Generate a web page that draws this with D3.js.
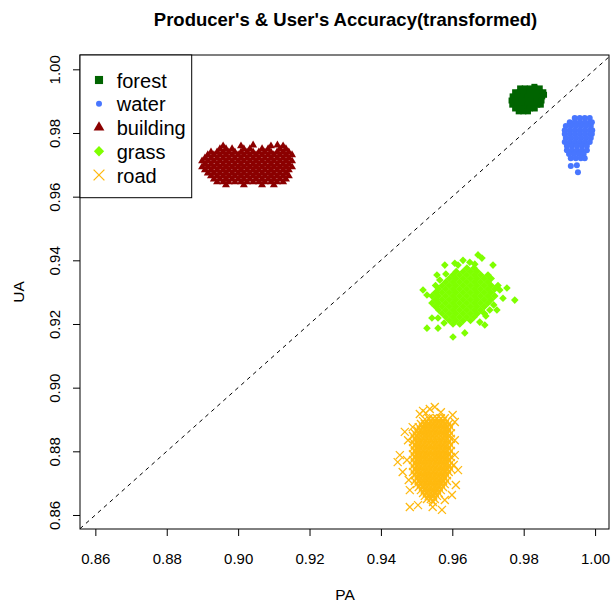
<!DOCTYPE html>
<html>
<head>
<meta charset="utf-8">
<script src="https://cdnjs.cloudflare.com/ajax/libs/d3/7.8.5/d3.min.js"></script>
<style>
  body { margin: 0; background: #fff; }
  svg { display: block; font-family: "Liberation Sans", Arial, sans-serif; }
</style>
</head>
<body>
<div class="container__chart"></div>
<script>
//data (PA, UA), one row of PA values per UA level
const xTicks = [0.86, 0.88, 0.90, 0.92, 0.94, 0.96, 0.98, 1.00];
const yTicks = [0.86, 0.88, 0.90, 0.92, 0.94, 0.96, 0.98, 1.00];
const classNames = ["forest", "water", "building", "grass", "road"];

const forestRows = [
    [0.9945, [0.9830]],
    [0.9940, [0.9790, 0.9803, 0.9817, 0.9831, 0.9845]],
    [0.9928, [0.9776, 0.9789, 0.9803, 0.9817, 0.9831, 0.9845, 0.9855]],
    [0.9920, [0.9857]],
    [0.9915, [0.9769, 0.9782, 0.9796, 0.9810, 0.9824, 0.9838, 0.9852]],
    [0.9902, [0.9766, 0.9780, 0.9794, 0.9808, 0.9822, 0.9836, 0.9850]],
    [0.9889, [0.9768, 0.9782, 0.9796, 0.9810, 0.9824, 0.9838, 0.9848]],
    [0.9877, [0.9776, 0.9789, 0.9803, 0.9817, 0.9831]],
    [0.9868, [0.9786, 0.9799, 0.9812]]
];
const waterRows = [
    [0.9847, [0.9943, 0.9957, 0.9971, 0.9985]],
    [0.9834, [0.9929, 0.9943, 0.9957, 0.9971, 0.9985, 0.9991]],
    [0.9822, [0.9918, 0.9932, 0.9946, 0.9960, 0.9974, 0.9988]],
    [0.9809, [0.9915, 0.9929, 0.9943, 0.9957, 0.9971, 0.9985, 0.9992]],
    [0.9797, [0.9915, 0.9929, 0.9943, 0.9957, 0.9971, 0.9985, 0.9991]],
    [0.9784, [0.9918, 0.9932, 0.9946, 0.9960, 0.9974, 0.9988]],
    [0.9772, [0.9915, 0.9929, 0.9943, 0.9957, 0.9971, 0.9985]],
    [0.9759, [0.9921, 0.9935, 0.9949, 0.9963, 0.9977]],
    [0.9746, [0.9921, 0.9935, 0.9949, 0.9963, 0.9977]],
    [0.9734, [0.9927, 0.9941, 0.9955, 0.9968]],
    [0.9721, [0.9932, 0.9946, 0.9960, 0.9971]],
    [0.9699, [0.9949]],
    [0.9696, [0.9932]],
    [0.9677, [0.9952]]
];
const buildingRows = [
    [0.9762, [0.9042, 0.9110]],
    [0.9759, [0.8958, 0.9008, 0.9092, 0.9126]],
    [0.9750, [0.8949, 0.8966, 0.8983, 0.9016, 0.9033, 0.9067, 0.9084, 0.9117, 0.9134]],
    [0.9740, [0.8924, 0.8941, 0.8958, 0.8974, 0.8991, 0.9008, 0.9025, 0.9042, 0.9058, 0.9075, 0.9092, 0.9109, 0.9126, 0.9142]],
    [0.9731, [0.8915, 0.8932, 0.8949, 0.8966, 0.8983, 0.9000, 0.9016, 0.9033, 0.9050, 0.9067, 0.9084, 0.9100, 0.9117, 0.9134, 0.9151]],
    [0.9721, [0.8907, 0.8924, 0.8941, 0.8958, 0.8974, 0.8991, 0.9008, 0.9025, 0.9042, 0.9058, 0.9075, 0.9092, 0.9109, 0.9126, 0.9142]],
    [0.9712, [0.8899, 0.8915, 0.8932, 0.8949, 0.8966, 0.8983, 0.9000, 0.9016, 0.9033, 0.9050, 0.9067, 0.9084, 0.9100, 0.9117, 0.9134, 0.9151]],
    [0.9702, [0.8907, 0.8924, 0.8941, 0.8958, 0.8974, 0.8991, 0.9008, 0.9025, 0.9042, 0.9058, 0.9075, 0.9092, 0.9109, 0.9126, 0.9142]],
    [0.9693, [0.8899, 0.8915, 0.8932, 0.8949, 0.8966, 0.8983, 0.9000, 0.9016, 0.9033, 0.9050, 0.9067, 0.9084, 0.9100, 0.9117, 0.9134, 0.9151]],
    [0.9684, [0.8907, 0.8924, 0.8941, 0.8958, 0.8974, 0.8991, 0.9008, 0.9025, 0.9042, 0.9058, 0.9075, 0.9092, 0.9109, 0.9126, 0.9142]],
    [0.9674, [0.8915, 0.8932, 0.8949, 0.8966, 0.8983, 0.9000, 0.9016, 0.9033, 0.9050, 0.9067, 0.9084, 0.9100, 0.9117, 0.9134]],
    [0.9665, [0.8924, 0.8941, 0.8958, 0.8974, 0.8991, 0.9008, 0.9025, 0.9042, 0.9058, 0.9075, 0.9092, 0.9109, 0.9126, 0.9142]],
    [0.9655, [0.8932, 0.8949, 0.8966, 0.8983, 0.9000, 0.9016, 0.9033, 0.9050, 0.9067, 0.9084, 0.9100, 0.9117, 0.9134]],
    [0.9646, [0.8941, 0.8958, 0.8974, 0.8991, 0.9008, 0.9025, 0.9042, 0.9058, 0.9075, 0.9092, 0.9109, 0.9126]],
    [0.9637, [0.8966, 0.9016, 0.9067, 0.9100]]
];
const grassRows = [
    [0.9417, [0.9672]],
    [0.9407, [0.9683]],
    [0.9400, [0.9630]],
    [0.9394, [0.9649]],
    [0.9391, [0.9607]],
    [0.9388, [0.9663]],
    [0.9385, [0.9579, 0.9616, 0.9714]],
    [0.9376, [0.9641, 0.9661]],
    [0.9365, [0.9611, 0.9631, 0.9651, 0.9670]],
    [0.9357, [0.9582]],
    [0.9354, [0.9557, 0.9602, 0.9621, 0.9641, 0.9661, 0.9680, 0.9700]],
    [0.9343, [0.9592, 0.9611, 0.9631, 0.9651, 0.9670, 0.9690, 0.9709]],
    [0.9338, [0.9565]],
    [0.9332, [0.9582, 0.9602, 0.9621, 0.9641, 0.9661, 0.9680, 0.9700]],
    [0.9321, [0.9553, 0.9572, 0.9592, 0.9611, 0.9631, 0.9651, 0.9670, 0.9690, 0.9709, 0.9728]],
    [0.9313, [0.9753]],
    [0.9310, [0.9562, 0.9582, 0.9602, 0.9621, 0.9641, 0.9661, 0.9680, 0.9700, 0.9719]],
    [0.9307, [0.9518, 0.9733]],
    [0.9299, [0.9553, 0.9572, 0.9592, 0.9611, 0.9631, 0.9651, 0.9670, 0.9690, 0.9709]],
    [0.9291, [0.9529]],
    [0.9288, [0.9543, 0.9562, 0.9582, 0.9602, 0.9621, 0.9641, 0.9661, 0.9680, 0.9700, 0.9719]],
    [0.9281, [0.9742]],
    [0.9277, [0.9553, 0.9572, 0.9592, 0.9611, 0.9631, 0.9651, 0.9670, 0.9690, 0.9709]],
    [0.9275, [0.9775]],
    [0.9266, [0.9543, 0.9562, 0.9582, 0.9602, 0.9621, 0.9641, 0.9661, 0.9680, 0.9700]],
    [0.9260, [0.9716]],
    [0.9255, [0.9553, 0.9572, 0.9592, 0.9611, 0.9631, 0.9651, 0.9670, 0.9690]],
    [0.9244, [0.9562, 0.9582, 0.9602, 0.9621, 0.9641, 0.9661, 0.9680, 0.9705, 0.9725]],
    [0.9233, [0.9572, 0.9592, 0.9611, 0.9631, 0.9651, 0.9670, 0.9690]],
    [0.9225, [0.9694]],
    [0.9222, [0.9582, 0.9602, 0.9621, 0.9641, 0.9661]],
    [0.9219, [0.9543, 0.9560]],
    [0.9211, [0.9592, 0.9611, 0.9631, 0.9651]],
    [0.9206, [0.9677]],
    [0.9203, [0.9577]],
    [0.9200, [0.9602, 0.9621]],
    [0.9197, [0.9691]],
    [0.9187, [0.9529, 0.9560]],
    [0.9172, [0.9635]],
    [0.9159, [0.9602]]
];
const roadRows = [
    [0.8939, [0.9551]],
    [0.8933, [0.9537]],
    [0.8927, [0.9518]],
    [0.8923, [0.9568]],
    [0.8920, [0.9526]],
    [0.8917, [0.9509]],
    [0.8914, [0.9601]],
    [0.8904, [0.9534, 0.9546, 0.9557, 0.9568, 0.9579]],
    [0.8895, [0.9518, 0.9529, 0.9540, 0.9551, 0.9562, 0.9574, 0.9585]],
    [0.8892, [0.9607]],
    [0.8886, [0.9512, 0.9523, 0.9534, 0.9546, 0.9557, 0.9568, 0.9579, 0.9590]],
    [0.8876, [0.9489, 0.9506, 0.9518, 0.9529, 0.9540, 0.9551, 0.9562, 0.9574, 0.9585, 0.9596]],
    [0.8867, [0.9501, 0.9512, 0.9523, 0.9534, 0.9546, 0.9557, 0.9568, 0.9579, 0.9590]],
    [0.8861, [0.9467]],
    [0.8857, [0.9495, 0.9506, 0.9518, 0.9529, 0.9540, 0.9551, 0.9562, 0.9574, 0.9585, 0.9596]],
    [0.8848, [0.9490, 0.9501, 0.9512, 0.9523, 0.9534, 0.9546, 0.9557, 0.9568, 0.9579, 0.9590]],
    [0.8839, [0.9495, 0.9506, 0.9518, 0.9529, 0.9540, 0.9551, 0.9562, 0.9574, 0.9585, 0.9596]],
    [0.8835, [0.9476, 0.9607]],
    [0.8829, [0.9490, 0.9501, 0.9512, 0.9523, 0.9534, 0.9546, 0.9557, 0.9568, 0.9579, 0.9590]],
    [0.8820, [0.9495, 0.9506, 0.9518, 0.9529, 0.9540, 0.9551, 0.9562, 0.9574, 0.9585, 0.9596]],
    [0.8810, [0.9490, 0.9501, 0.9512, 0.9523, 0.9534, 0.9546, 0.9557, 0.9568, 0.9579, 0.9590]],
    [0.8801, [0.9495, 0.9506, 0.9518, 0.9529, 0.9540, 0.9551, 0.9562, 0.9574, 0.9585, 0.9596]],
    [0.8791, [0.9490, 0.9501, 0.9512, 0.9523, 0.9534, 0.9546, 0.9557, 0.9568, 0.9579, 0.9590]],
    [0.8788, [0.9453, 0.9607]],
    [0.8782, [0.9495, 0.9506, 0.9518, 0.9529, 0.9540, 0.9551, 0.9562, 0.9574, 0.9585, 0.9596]],
    [0.8773, [0.9473, 0.9490, 0.9501, 0.9512, 0.9523, 0.9534, 0.9546, 0.9557, 0.9568, 0.9579, 0.9590]],
    [0.8766, [0.9447]],
    [0.8763, [0.9495, 0.9506, 0.9518, 0.9529, 0.9540, 0.9551, 0.9562, 0.9574, 0.9585, 0.9596]],
    [0.8757, [0.9604]],
    [0.8754, [0.9490, 0.9501, 0.9512, 0.9523, 0.9534, 0.9546, 0.9557, 0.9568, 0.9579, 0.9590]],
    [0.8744, [0.9495, 0.9506, 0.9518, 0.9529, 0.9540, 0.9551, 0.9562, 0.9574, 0.9585, 0.9596]],
    [0.8741, [0.9616]],
    [0.8735, [0.9461, 0.9490, 0.9501, 0.9512, 0.9523, 0.9534, 0.9546, 0.9557, 0.9568, 0.9579, 0.9590]],
    [0.8725, [0.9495, 0.9506, 0.9518, 0.9529, 0.9540, 0.9551, 0.9562, 0.9574, 0.9585]],
    [0.8716, [0.9501, 0.9512, 0.9523, 0.9534, 0.9546, 0.9557, 0.9568, 0.9579]],
    [0.8710, [0.9478]],
    [0.8707, [0.9495, 0.9506, 0.9518, 0.9529, 0.9540, 0.9551, 0.9562, 0.9574, 0.9585]],
    [0.8697, [0.9501, 0.9512, 0.9523, 0.9534, 0.9546, 0.9557, 0.9568, 0.9579]],
    [0.8694, [0.9610]],
    [0.8688, [0.9506, 0.9518, 0.9529, 0.9540, 0.9551, 0.9562, 0.9574]],
    [0.8678, [0.9481, 0.9512, 0.9523, 0.9534, 0.9546, 0.9557, 0.9568]],
    [0.8669, [0.9518, 0.9529, 0.9540, 0.9551, 0.9562]],
    [0.8663, [0.9599]],
    [0.8660, [0.9523, 0.9534, 0.9546, 0.9557]],
    [0.8650, [0.9529, 0.9540, 0.9551]],
    [0.8647, [0.9579]],
    [0.8641, [0.9546]],
    [0.8631, [0.9504]],
    [0.8625, [0.9481, 0.9545]],
    [0.8616, [0.9571]]
];

//chart shape
const WIDTH = 611;
const HEIGHT = 603;
const LEFT = 80, RIGHT = 609, TOP = 55, BOTTOM = 529;

const colors = {
    forest: "#006400",
    water: "#4876FF",
    building: "#8B0000",
    grass: "#7FFF00",
    road: "#FFB90F"
};

const xScale = d3.scaleLinear().domain([0.8557, 1.0039]).range([LEFT, RIGHT]);
const yScale = d3.scaleLinear().domain([0.8556, 1.0045]).range([BOTTOM, TOP]);

const toPoints = rows => rows.flatMap(([ua, pas]) => pas.map(pa => [pa, ua]));
const series = {
    forest: toPoints(forestRows),
    water: toPoints(waterRows),
    building: toPoints(buildingRows),
    grass: toPoints(grassRows),
    road: toPoints(roadRows)
};

const svg = d3.select(".container__chart")
    .append("svg")
    .attr("width", WIDTH)
    .attr("height", HEIGHT)
    .style("background-color", "#fff");

//marks: one drawer per class, s = size factor
const drawMark = (sel, name, s) => {
    const c = colors[name];
    if (name === "forest") {
        sel.append("rect")
            .attr("x", -3 * s).attr("y", -3 * s)
            .attr("width", 6 * s).attr("height", 6 * s)
            .attr("fill", c);
    } else if (name === "water") {
        sel.append("circle").attr("r", 3 * s).attr("fill", c);
    } else if (name === "building") {
        sel.append("path")
            .attr("d", d3.symbol(d3.symbolTriangle, 27.7 * s * s)())
            .attr("fill", c);
    } else if (name === "grass") {
        const r = 3.8 * s;
        sel.append("path")
            .attr("d", `M0,${-r}L${r},0L0,${r}L${-r},0Z`)
            .attr("fill", c);
    } else {
        const h = 4 * s;
        sel.append("path")
            .attr("d", `M${-h},${-h}L${h},${h}M${-h},${h}L${h},${-h}`)
            .attr("stroke", c)
            .attr("stroke-width", 1.3)
            .attr("fill", "none");
    }
};

//plot box
svg.append("rect")
    .attr("x", LEFT).attr("y", TOP)
    .attr("width", RIGHT - LEFT).attr("height", BOTTOM - TOP)
    .attr("fill", "none")
    .attr("stroke", "#000")
    .attr("stroke-width", 1);

//diagonal y = x
const dLo = Math.max(xScale.domain()[0], yScale.domain()[0]);
const dHi = Math.min(xScale.domain()[1], yScale.domain()[1]);
svg.append("line")
    .attr("x1", xScale(dLo)).attr("y1", yScale(dLo))
    .attr("x2", xScale(dHi)).attr("y2", yScale(dHi))
    .attr("stroke", "#000")
    .attr("stroke-width", 1)
    .attr("stroke-dasharray", "4,4");

//points
classNames.forEach(name => {
    svg.append("g")
        .attr("class", `pts-${name}`)
        .selectAll("g")
        .data(series[name])
        .enter()
        .append("g")
        .attr("transform", d => `translate(${xScale(d[0])},${yScale(d[1])})`)
        .each(function () { drawMark(d3.select(this), name, 1); });
});

//x-axis
const xAxis = svg.append("g")
    .attr("transform", `translate(0,${BOTTOM})`)
    .call(d3.axisBottom(xScale).tickValues(xTicks).tickFormat(d3.format(".2f")).tickSize(7).tickSizeOuter(0));
xAxis.select(".domain").remove();
xAxis.selectAll("line").attr("stroke", "#000");
xAxis.selectAll("text")
    .attr("y", 35)
    .attr("dy", 0)
    .attr("fill", "#000")
    .style("font-size", "15px")
    .style("font-family", "'Liberation Sans', Arial, sans-serif");

//y-axis
const yAxis = svg.append("g")
    .attr("transform", `translate(${LEFT},0)`)
    .call(d3.axisLeft(yScale).tickValues(yTicks).tickFormat(d3.format(".2f")).tickSize(7).tickSizeOuter(0));
yAxis.select(".domain").remove();
yAxis.selectAll("line").attr("stroke", "#000");
yAxis.selectAll("text")
    .attr("x", 0)
    .attr("y", 0)
    .attr("dy", 0)
    .attr("text-anchor", "middle")
    .attr("transform", "translate(-20,0) rotate(-90)")
    .attr("fill", "#000")
    .style("font-size", "15px")
    .style("font-family", "'Liberation Sans', Arial, sans-serif");

//title and axis labels
svg.append("text")
    .attr("x", 345.5)
    .attr("y", 26)
    .attr("text-anchor", "middle")
    .style("font-size", "18.5px")
    .style("font-weight", "bold")
    .text("Producer's & User's Accuracy(transformed)");

svg.append("text")
    .attr("x", 345)
    .attr("y", 600)
    .attr("text-anchor", "middle")
    .style("font-size", "15.5px")
    .text("PA");

svg.append("text")
    .attr("transform", "translate(24,292) rotate(-90)")
    .attr("text-anchor", "middle")
    .style("font-size", "15.5px")
    .text("UA");

//legend
const legend = svg.append("g");
legend.append("rect")
    .attr("x", LEFT).attr("y", TOP)
    .attr("width", 111.7).attr("height", 142.7)
    .attr("fill", "#fff")
    .attr("stroke", "#000")
    .attr("stroke-width", 1);

classNames.forEach((name, i) => {
    const cy = 80 + i * 23.75;
    const item = legend.append("g").attr("transform", `translate(99,${cy})`);
    drawMark(item, name, name === "water" ? 1 : 1.35);
    legend.append("text")
        .attr("x", 116.7)
        .attr("y", cy + 7.5)
        .style("font-size", "20px")
        .text(name);
});
</script>
</body>
</html>
